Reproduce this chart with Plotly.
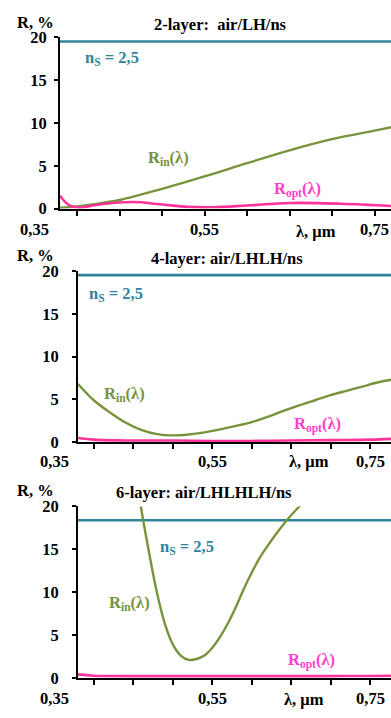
import plotly.graph_objects as go

# ---------------- data ----------------
# panel 1: 2-layer air/LH/ns
p1_rin_x = [0.38, 0.40, 0.42, 0.45, 0.50, 0.55, 0.60, 0.65, 0.70, 0.75, 0.77]
p1_rin_y = [0.1, 0.25, 0.5, 1.0, 2.3, 3.75, 5.3, 6.8, 8.1, 9.1, 9.5]
p1_ropt_x = [0.38, 0.388, 0.396, 0.404, 0.428, 0.466, 0.498, 0.53, 0.56, 0.60, 0.651, 0.71, 0.77]
p1_ropt_y = [1.5, 0.6, 0.2, 0.12, 0.5, 0.76, 0.5, 0.2, 0.15, 0.35, 0.65, 0.57, 0.3]
p1_ns = 19.5

# panel 2: 4-layer air/LHLH/ns
p2_rin_x = [0.38, 0.40, 0.42, 0.44, 0.46, 0.48, 0.50, 0.52, 0.54, 0.56, 0.58, 0.60,
            0.62, 0.64, 0.66, 0.68, 0.70, 0.72, 0.74, 0.76, 0.777]
p2_rin_y = [6.8, 4.9, 3.5, 2.3, 1.45, 0.95, 0.8, 0.9, 1.15, 1.5, 1.9, 2.35,
            2.95, 3.65, 4.3, 4.9, 5.5, 6.0, 6.5, 7.0, 7.3]
p2_ropt_x = [0.38, 0.40, 0.45, 0.50, 0.55, 0.60, 0.65, 0.70, 0.75, 0.777]
p2_ropt_y = [0.5, 0.3, 0.2, 0.2, 0.15, 0.15, 0.2, 0.25, 0.3, 0.4]
p2_ns = 19.5

# panel 3: 6-layer air/LHLHLH/ns
p3_rin_x = [0.455, 0.46, 0.47, 0.48, 0.49, 0.50, 0.51, 0.52, 0.53, 0.54, 0.55, 0.56,
            0.57, 0.58, 0.59, 0.60, 0.61, 0.62, 0.63, 0.64, 0.65, 0.66, 0.67]
p3_rin_y = [23.0, 19.8, 14.6, 9.9, 6.3, 3.9, 2.6, 2.1, 2.2, 2.6, 3.5, 4.8,
            6.4, 8.3, 10.4, 12.3, 14.0, 15.4, 16.7, 17.9, 19.0, 20.0, 21.0]
p3_ropt_x = [0.38, 0.40, 0.45, 0.50, 0.55, 0.60, 0.65, 0.70, 0.75, 0.777]
p3_ropt_y = [0.4, 0.25, 0.2, 0.2, 0.2, 0.2, 0.2, 0.2, 0.22, 0.25]
p3_ns = 18.4

titles = ["2-layer:  air/LH/ns", "4-layer: air/LHLH/ns", "6-layer: air/LHLHLH/ns"]
y_ticks = [0, 5, 10, 15, 20]
x_minor_ticks = [0.40, 0.45, 0.50, 0.55, 0.60, 0.65, 0.70, 0.75]
x_label_vals = [0.35, 0.55, 0.75]
x_label_text = ["0,35", "0,55", "0,75"]

# ---------------- style ----------------
W, H = 391, 718
FONT = "'Liberation Serif', 'Times New Roman', Times, serif"
FS = 16.5
TEAL = "#31849B"
GREEN = "#77933C"
PINK = "#FF3399"
PINK_TXT = "#FF3FC8"

def px(x):
    return x / W

def py(y):
    return 1 - y / H

panels = [
    dict(rin=(p1_rin_x, p1_rin_y), ropt=(p1_ropt_x, p1_ropt_y), ns=p1_ns,
         xdom=[px(60), 1], xr=[0.38, 0.38 + 331 / 850], ydom=[py(205), py(29)], standoff=4,
         title=(221, 16), rlab=(35, 14), nslab=(112, 50), rinlab=(168, 153), roptlab=(297, 185),
         xlab_y=226, lam=(316, 229)),
    dict(rin=(p2_rin_x, p2_rin_y), ropt=(p2_ropt_x, p2_ropt_y), ns=p2_ns,
         xdom=[px(78), 1], xr=[0.38, 0.38 + 313 / 790], ydom=[py(445), py(269)], standoff=10,
         title=(227, 256), rlab=(35, 253), nslab=(116, 293), rinlab=(124, 395), roptlab=(317, 427),
         xlab_y=465, lam=(309, 465)),
    dict(rin=(p3_rin_x, p3_rin_y), ropt=(p3_ropt_x, p3_ropt_y), ns=p3_ns,
         xdom=[px(78), 1], xr=[0.38, 0.38 + 313 / 790], ydom=[py(687), py(511)], standoff=10,
         title=(204, 497), rlab=(35, 495), nslab=(187, 553), rinlab=(129, 610), roptlab=(311, 669),
         xlab_y=708, lam=(304, 709)),
]

fig = go.Figure()
annotations = []
layout = dict(
    width=W, height=H, margin=dict(l=0, r=0, t=0, b=0),
    paper_bgcolor="white", plot_bgcolor="white", showlegend=False,
    font=dict(family=FONT, size=FS, color="black"),
)

def bold(t):
    return "<b>" + t + "</b>"

for i, p in enumerate(panels):
    n = "" if i == 0 else str(i + 1)
    xa, ya = "x" + n, "y" + n
    xr = p["xr"]
    xd = p["xdom"]
    fig.add_trace(go.Scatter(x=[xr[0], xr[1] + 0.01], y=[p["ns"], p["ns"]], mode="lines",
                             line=dict(color=TEAL, width=2.6), xaxis=xa, yaxis=ya, hoverinfo="skip"))
    fig.add_trace(go.Scatter(x=p["rin"][0], y=p["rin"][1], mode="lines",
                             line=dict(color=GREEN, width=2.4, shape="spline", smoothing=1.0),
                             xaxis=xa, yaxis=ya))
    fig.add_trace(go.Scatter(x=p["ropt"][0], y=p["ropt"][1], mode="lines",
                             line=dict(color=PINK, width=2.6, shape="spline", smoothing=1.0),
                             xaxis=xa, yaxis=ya))
    layout["xaxis" + n] = dict(
        domain=xd, range=xr, anchor=ya, showgrid=False, zeroline=False,
        showline=True, linecolor="black", linewidth=2,
        tickmode="array", tickvals=x_minor_ticks, ticktext=[""] * len(x_minor_ticks),
        ticks="outside", ticklen=5, tickwidth=1.5, tickcolor="black",
    )
    layout["yaxis" + n] = dict(
        domain=p["ydom"], range=[0, 20], anchor=xa, showgrid=False, zeroline=False,
        showline=True, linecolor="black", linewidth=2,
        tickmode="array", tickvals=y_ticks, ticktext=[bold(str(v)) for v in y_ticks],
        ticks="outside", ticklen=4, tickwidth=1.5, tickcolor="black",
        ticklabelstandoff=p["standoff"],
        tickfont=dict(family=FONT, size=FS, color="black"),
    )
    for v, t in zip(x_label_vals, x_label_text):
        xp = xd[0] + (v - xr[0]) / (xr[1] - xr[0]) * (xd[1] - xd[0])
        annotations.append(dict(x=xp, y=py(p["xlab_y"]), xref="paper", yref="paper", text=bold(t),
                                showarrow=False, xanchor="center", yanchor="middle",
                                font=dict(family=FONT, size=FS, color="black")))

    def ann(pos, text, color="black"):
        annotations.append(dict(x=px(pos[0]), y=py(pos[1]), xref="paper", yref="paper",
                                text=bold(text), showarrow=False, xanchor="center", yanchor="middle",
                                font=dict(family=FONT, size=FS, color=color)))
    ann(p["title"], titles[i])
    ann(p["rlab"], "R, %")
    ann(p["lam"], "λ, μm")
    ann(p["nslab"], "n<sub>S</sub> = 2,5", TEAL)
    ann(p["rinlab"], "R<sub>in</sub>(λ)", GREEN)
    ann(p["roptlab"], "R<sub>opt</sub>(λ)", PINK_TXT)

layout["annotations"] = annotations
fig.update_layout(**layout)
fig.write_html("out.html")
